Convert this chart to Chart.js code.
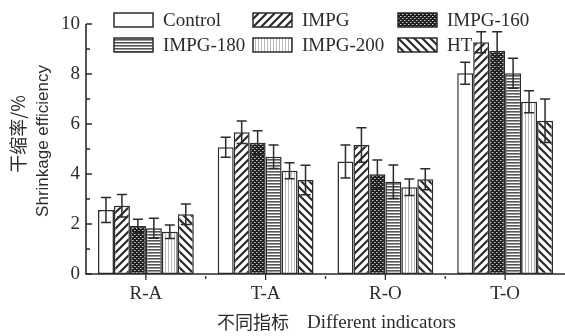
<!DOCTYPE html>
<html>
<head>
<meta charset="utf-8">
<script src="https://cdn.jsdelivr.net/npm/chart.js@4.4.0/dist/chart.umd.min.js"></script>
<style>
  html, body { margin: 0; padding: 0; background: #fff; }
  #wrap { width: 565px; height: 336px; position: relative; }
</style>
</head>
<body>
<div id="wrap"><canvas id="shrinkChart"></canvas></div>
<script>
// data
const categories = ['R-A', 'T-A', 'R-O', 'T-O'];
const seriesNames = ['Control', 'IMPG', 'IMPG-160', 'IMPG-180', 'IMPG-200', 'HT'];

const controlVals = [2.56, 5.07, 4.50, 8.03];
const impgVals    = [2.73, 5.67, 5.16, 9.27];
const impg160Vals = [1.92, 5.25, 3.99, 8.93];
const impg180Vals = [1.83, 4.69, 3.69, 8.03];
const impg200Vals = [1.69, 4.13, 3.47, 6.89];
const htVals      = [2.39, 3.76, 3.79, 6.13];

const controlErr = [0.50, 0.40, 0.66, 0.44];
const impgErr    = [0.45, 0.45, 0.69, 0.42];
const impg160Err = [0.27, 0.48, 0.57, 0.76];
const impg180Err = [0.40, 0.47, 0.67, 0.60];
const impg200Err = [0.27, 0.32, 0.33, 0.44];
const htErr      = [0.41, 0.59, 0.42, 0.87];

const yTicks = [0, 2, 4, 6, 8, 10];

const serif = '"Liberation Serif", "Times New Roman", serif';
const ink = '#2b2b2b';

// fill patterns
function makeTile(w, h, draw) {
    const c = document.createElement('canvas');
    c.width = w; c.height = h;
    const g = c.getContext('2d');
    g.fillStyle = '#fff';
    g.fillRect(0, 0, w, h);
    draw(g);
    return c.getContext('2d').createPattern(c, 'repeat');
}

function diagonal(forward) {
    return makeTile(8, 8, g => {
        g.strokeStyle = ink;
        g.lineWidth = 2.2;
        g.beginPath();
        if (forward) {
            g.moveTo(-2, 10); g.lineTo(10, -2);
            g.moveTo(-2, 2); g.lineTo(2, -2);
            g.moveTo(6, 10); g.lineTo(10, 6);
        } else {
            g.moveTo(-2, -2); g.lineTo(10, 10);
            g.moveTo(-2, 6); g.lineTo(2, 10);
            g.moveTo(6, -2); g.lineTo(10, 2);
        }
        g.stroke();
    });
}

const patterns = [
    '#ffffff',
    diagonal(true),
    makeTile(4, 4, g => {
        g.fillStyle = '#1e1e1e';
        g.fillRect(0, 0, 4, 4);
        g.fillStyle = '#d8d8d8';
        g.fillRect(0, 0, 1, 1);
        g.fillRect(2, 2, 1, 1);
        g.fillStyle = '#777';
        g.fillRect(1, 0, 1, 1);
        g.fillRect(3, 2, 1, 1);
    }),
    makeTile(1, 3, g => {
        g.fillStyle = '#555';
        g.fillRect(0, 0, 1, 1.6);
    }),
    makeTile(3, 1, g => {
        g.fillStyle = '#b8b8b8';
        g.fillRect(0, 0, 1, 1);
    }),
    diagonal(false)
];

const allVals = [controlVals, impgVals, impg160Vals, impg180Vals, impg200Vals, htVals];
const allErr = [controlErr, impgErr, impg160Err, impg180Err, impg200Err, htErr];

const datasets = seriesNames.map((name, i) => ({
    label: name,
    data: allVals[i],
    errors: allErr[i],
    backgroundColor: patterns[i],
    borderColor: ink,
    borderWidth: 1.5,
    borderSkipped: false
}));

const decor = {
    id: 'decor',
    afterDatasetsDraw(chart) {
        const ctx = chart.ctx;
        const area = chart.chartArea;
        const xs = chart.scales.x;
        const ys = chart.scales.y;
        ctx.save();

        // error bars
        ctx.strokeStyle = ink;
        ctx.lineWidth = 1.5;
        chart.data.datasets.forEach((ds, i) => {
            chart.getDatasetMeta(i).data.forEach((bar, j) => {
                const v = ds.data[j], e = ds.errors[j];
                const top = ys.getPixelForValue(v + e);
                const bot = ys.getPixelForValue(v - e);
                ctx.beginPath();
                ctx.moveTo(bar.x, top); ctx.lineTo(bar.x, bot);
                ctx.moveTo(bar.x - 5, top); ctx.lineTo(bar.x + 5, top);
                ctx.moveTo(bar.x - 5, bot); ctx.lineTo(bar.x + 5, bot);
                ctx.stroke();
            });
        });

        // axes
        ctx.lineWidth = 1.6;
        ctx.beginPath();
        ctx.moveTo(area.left, area.top);
        ctx.lineTo(area.left, area.bottom);
        ctx.lineTo(area.right, area.bottom);
        ctx.stroke();

        // y ticks pointing inward, minor ones at odd values
        ctx.lineWidth = 1.3;
        ctx.beginPath();
        for (let v = 0; v <= 10; v++) {
            const py = ys.getPixelForValue(v);
            ctx.moveTo(area.left, py);
            ctx.lineTo(area.left + (v % 2 === 0 ? 6 : 4), py);
        }
        // x ticks: long ones at category centres, short ones between
        categories.forEach((c, j) => {
            const px = xs.getPixelForValue(j);
            ctx.moveTo(px, area.bottom);
            ctx.lineTo(px, area.bottom + 6);
            if (j > 0) {
                const mid = (px + xs.getPixelForValue(j - 1)) / 2;
                ctx.moveTo(mid, area.bottom + 2);
                ctx.lineTo(mid, area.bottom + 5);
            }
        });
        ctx.stroke();

        // legend, 3 columns x 2 rows
        const colX = [114, 253, 398];
        const rowY = [20, 45];
        ctx.font = '19px ' + serif;
        ctx.textBaseline = 'middle';
        ctx.textAlign = 'left';
        chart.data.datasets.forEach((ds, i) => {
            const bx = colX[i % 3], cy = rowY[Math.floor(i / 3)];
            ctx.fillStyle = ds.backgroundColor;
            ctx.fillRect(bx, cy - 7, 39, 14);
            ctx.lineWidth = 1.5;
            ctx.strokeStyle = ink;
            ctx.strokeRect(bx, cy - 7, 39, 14);
            ctx.fillStyle = ink;
            ctx.fillText(ds.label, bx + 49, cy + 1);
        });

        // axis titles
        ctx.fillStyle = ink;
        ctx.textAlign = 'center';
        ctx.save();
        ctx.translate(18, 134);
        ctx.rotate(-Math.PI / 2);
        ctx.font = '18px "Noto Sans CJK SC"';
        ctx.fillText('干缩率/%', 0, 0);
        ctx.restore();
        ctx.save();
        ctx.translate(43, 141);
        ctx.rotate(-Math.PI / 2);
        ctx.font = '17px "Liberation Sans", Arial, sans-serif';
        ctx.fillText('Shrinkage efficiency', 0, 0);
        ctx.restore();

        ctx.textAlign = 'left';
        ctx.font = '18px "Noto Sans CJK SC"';
        ctx.fillText('不同指标', 217, 322);
        ctx.font = '19px ' + serif;
        ctx.fillText('Different indicators', 307, 323);

        ctx.restore();
    }
};

new Chart(document.getElementById('shrinkChart'), {
    type: 'bar',
    data: { labels: categories, datasets: datasets },
    options: {
        responsive: true,
        maintainAspectRatio: false,
        animation: false,
        events: [],
        layout: { padding: { top: 24, right: 0, left: 0, bottom: 0 } },
        datasets: { bar: { categoryPercentage: 0.8, barPercentage: 1.0 } },
        plugins: { legend: { display: false }, tooltip: { enabled: false } },
        scales: {
            x: {
                grid: { display: false, drawTicks: false },
                border: { display: false },
                ticks: { color: ink, font: { family: serif, size: 19 }, padding: 9 },
                afterFit: s => { s.height = 62; }
            },
            y: {
                min: 0,
                max: 10,
                afterBuildTicks: s => { s.ticks = yTicks.map(v => ({ value: v })); },
                grid: { display: false, drawTicks: false },
                border: { display: false },
                ticks: { color: ink, font: { family: serif, size: 19 }, padding: 6 },
                afterFit: s => { s.width = 86; }
            }
        }
    },
    plugins: [decor]
});
</script>
</body>
</html>
